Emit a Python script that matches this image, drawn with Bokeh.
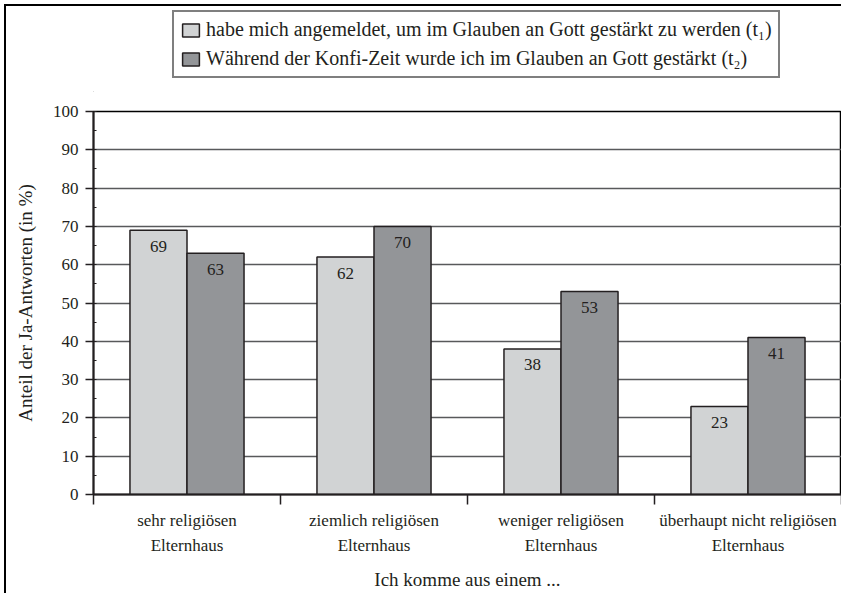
from bokeh.plotting import figure
from bokeh.layouts import column
from bokeh.models import (ColumnDataSource, Range1d, LinearAxis,
                          FixedTicker, SingleIntervalTicker, Legend, LegendItem)
from bokeh.transform import dodge
from bokeh.core.properties import value
from bokeh.embed import file_html
from bokeh.resources import INLINE

# ---- data ----
categories = ["sehr religiösen\nElternhaus", "ziemlich religiösen\nElternhaus",
              "weniger religiösen\nElternhaus", "überhaupt nicht religiösen\nElternhaus"]
t1_values = [69, 62, 38, 23]
t2_values = [63, 70, 53, 41]
series_names = ["habe mich angemeldet, um im Glauben an Gott gestärkt zu werden (t\u2081)",
                "Während der Konfi-Zeit wurde ich im Glauben an Gott gestärkt (t\u2082)"]
y_label = "Anteil der Ja-Antworten (in %)"
x_label = "Ich komme aus einem ..."

FONT = "Liberation Serif"
TXT = "#231f20"
LIGHT = "#d1d3d4"
DARK = "#939598"
FILLS = [LIGHT, DARK]

n = len(categories)
centers = [i + 0.5 for i in range(n)]          # category slot centres on a 0..n axis
src = ColumnDataSource(dict(xc=centers, t1=t1_values, t2=t2_values,
                            t1s=[str(v) for v in t1_values], t2s=[str(v) for v in t2_values]))

# ---------------- legend strip ----------------
lg = figure(width=835, height=86, output_backend="svg", toolbar_location=None,
            x_range=Range1d(0, 1), y_range=Range1d(0, 1),
            x_axis_location=None, y_axis_location=None,
            min_border_left=0, min_border_right=0, min_border_top=0, min_border_bottom=0)
lg.outline_line_color = None
lg.xgrid.visible = False
lg.ygrid.visible = False
# placeholder renderers (outside the visible range) only to supply the legend swatches
dummies = [lg.vbar(x=[-5], top=[-5], width=0.1, fill_color=c, line_color=TXT, line_width=1.5)
           for c in FILLS]
legend = Legend(items=[LegendItem(label=s, renderers=[r]) for s, r in zip(series_names, dummies)],
                location=(79, 14))
legend.border_line_color = "black"
legend.border_line_width = 2
legend.background_fill_color = "white"
legend.background_fill_alpha = 1
legend.label_text_font = FONT
legend.label_text_font_size = "20px"
legend.label_text_color = TXT
legend.glyph_width = 21
legend.glyph_height = 16
legend.label_height = 22
legend.label_standoff = 5
legend.spacing = 6
legend.padding = 6
legend.margin = 0
lg.add_layout(legend, "center")

# ---------------- main chart ----------------
p = figure(width=835, height=501, output_backend="svg", toolbar_location=None,
           x_range=Range1d(0, n), y_range=Range1d(0, 100),
           x_axis_location=None, y_axis_location=None,
           min_border_left=87, min_border_right=0, min_border_top=19, min_border_bottom=99)
p.outline_line_color = "black"
p.outline_line_width = 1.5
p.xgrid.visible = False
p.background_fill_color = "white"

# y axis
yax = LinearAxis(ticker=SingleIntervalTicker(interval=10, num_minor_ticks=2),
                 axis_label=y_label)
yax.major_tick_out = 8
yax.major_tick_in = 0
yax.minor_tick_in = 3
yax.minor_tick_out = 0
yax.axis_line_width = 2
yax.axis_line_color = TXT
yax.major_tick_line_color = TXT
yax.major_tick_line_width = 1.5
yax.minor_tick_line_color = TXT
yax.major_label_text_font = FONT
yax.major_label_text_font_size = "17px"
yax.major_label_text_color = TXT
yax.major_label_standoff = 7
yax.axis_label_text_font = FONT
yax.axis_label_text_font_size = "19px"
yax.axis_label_text_font_style = "normal"
yax.axis_label_text_color = TXT
yax.axis_label_standoff = 14
p.add_layout(yax, "left")

p.ygrid.ticker = yax.ticker
p.ygrid.grid_line_color = "#58595b"
p.ygrid.grid_line_width = 1.3

# boundary ticks axis (ticks only, no labels)
bax = LinearAxis(ticker=FixedTicker(ticks=list(range(n + 1)), minor_ticks=[]))
bax.major_tick_out = 10
bax.major_tick_in = 0
bax.major_tick_line_width = 1.5
bax.major_tick_line_color = TXT
bax.axis_line_width = 2
bax.axis_line_color = TXT
bax.major_label_text_font_size = "0px"
bax.major_label_text_color = None
bax.major_label_standoff = 0
p.add_layout(bax, "below")

# category labels axis
cax = LinearAxis(ticker=FixedTicker(ticks=centers, minor_ticks=[]), axis_label=x_label)
cax.major_label_overrides = {c: lab for c, lab in zip(centers, categories)}
cax.axis_line_color = None
cax.major_tick_line_color = None
cax.minor_tick_line_color = None
cax.major_label_text_font = FONT
cax.major_label_text_font_size = "17px"
cax.major_label_text_color = TXT
cax.major_label_text_line_height = 1.32
cax.major_label_standoff = 0
cax.axis_label_text_font = FONT
cax.axis_label_text_font_size = "19px"
cax.axis_label_text_font_style = "normal"
cax.axis_label_text_color = TXT
cax.axis_label_standoff = 11
p.add_layout(cax, "below")

W = 0.305
p.vbar(x=dodge("xc", -W / 2), top="t1", width=W, source=src,
       fill_color=LIGHT, line_color=TXT, line_width=1.5)
p.vbar(x=dodge("xc", W / 2), top="t2", width=W, source=src,
       fill_color=DARK, line_color=TXT, line_width=1.5)

for col, txt, off in (("t1", "t1s", -W / 2), ("t2", "t2s", W / 2)):
    p.text(x=dodge("xc", off), y=col, text=txt, source=src,
           text_font=value(FONT), text_font_size="17px", text_color=TXT,
           text_align="center", text_baseline="middle", y_offset=16)

page = column(lg, p, spacing=0)
page.styles = {"border-left": "2px solid black", "border-top": "2px solid black",
               "margin-left": "4px", "margin-top": "4px"}

open("out.html", "w").write(file_html(page, INLINE))
